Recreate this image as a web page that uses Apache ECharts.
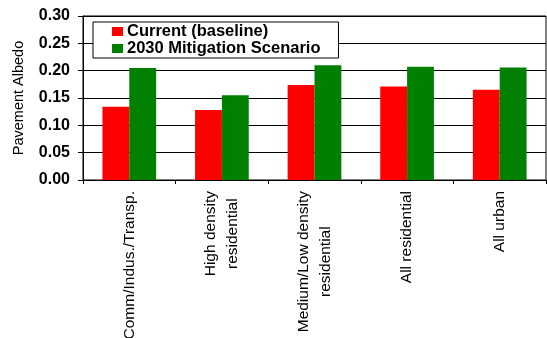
<!DOCTYPE html>
<html>
<head>
<meta charset="utf-8">
<script src="https://cdn.jsdelivr.net/npm/echarts@6/dist/echarts.min.js"></script>
<style>
  html, body { margin: 0; padding: 0; background: #fff; }
  #chart { width: 547px; height: 338px; }
</style>
</head>
<body>
<div id="chart"></div>
<script>
// Pavement albedo by land-use category
const categories = [
  'Comm/Indus./Transp.',
  'High density\nresidential',
  'Medium/Low density\nresidential',
  'All residential',
  'All urban'
];
const currentBaseline = [0.134, 0.128, 0.174, 0.171, 0.165];
const mitigation2030 = [0.205, 0.155, 0.210, 0.207, 0.206];
const yTicks = { min: 0, max: 0.30, interval: 0.05 };

const FONT = '"Liberation Sans", Arial, sans-serif';

const chart = echarts.init(document.getElementById('chart'), null, { renderer: 'canvas' });

chart.setOption({
  animation: false,
  backgroundColor: '#ffffff',
  grid: {
    left: 83, right: 1, top: 16, bottom: 158,
    containLabel: false,
    outerBoundsMode: 'none',
    show: true, borderColor: '#000', borderWidth: 1, backgroundColor: 'transparent'
  },
  legend: {
    orient: 'vertical',
    left: 93, top: 22,
    padding: [1, 18, 1, 19],
    itemGap: 0,
    itemWidth: 11, itemHeight: 9,
    icon: 'rect',
    backgroundColor: '#ffffff',
    borderColor: '#000',
    borderWidth: 1,
    textStyle: { fontFamily: FONT, fontWeight: 'bold', fontSize: 16.5, lineHeight: 16, color: '#000', padding: [0, 0, 0, -1] },
    data: ['Current (baseline)', '2030 Mitigation Scenario']
  },
  xAxis: {
    type: 'category',
    data: categories,
    axisLine: { lineStyle: { color: '#000', width: 1 } },
    axisTick: { show: true, length: 4, lineStyle: { color: '#000' } },
    axisLabel: {
      rotate: 90,
      margin: 11,
      interval: 0,
      fontFamily: FONT,
      fontSize: 15.5,
      color: '#000',
      formatter: function (v) {
        return v.split('\n').map(function (s) { return '{c|' + s + '}'; }).join('\n');
      },
      rich: { c: { align: 'center', fontFamily: FONT, fontSize: 15.5, color: '#000', lineHeight: 22 } }
    }
  },
  yAxis: {
    type: 'value',
    min: yTicks.min, max: yTicks.max, interval: yTicks.interval,
    name: 'Pavement Albedo',
    nameLocation: 'middle',
    nameGap: 57,
    nameTextStyle: { fontFamily: FONT, fontSize: 14.5, color: '#000' },
    axisLine: { show: true, lineStyle: { color: '#000', width: 1 } },
    axisTick: { show: true, length: 5, lineStyle: { color: '#000' } },
    splitLine: { show: true, lineStyle: { color: '#000', width: 1 } },
    axisLabel: {
      margin: 13,
      fontFamily: FONT, fontWeight: 'bold', fontSize: 16, color: '#000',
      formatter: function (v) { return v.toFixed(2); }
    }
  },
  series: [
    {
      name: 'Current (baseline)',
      type: 'bar',
      data: currentBaseline,
      itemStyle: { color: '#ff0000' },
      barGap: '0%',
      barCategoryGap: '42%'
    },
    {
      name: '2030 Mitigation Scenario',
      type: 'bar',
      data: mitigation2030,
      itemStyle: { color: '#008000' },
      barGap: '0%',
      barCategoryGap: '42%'
    }
  ]
});
</script>
</body>
</html>
